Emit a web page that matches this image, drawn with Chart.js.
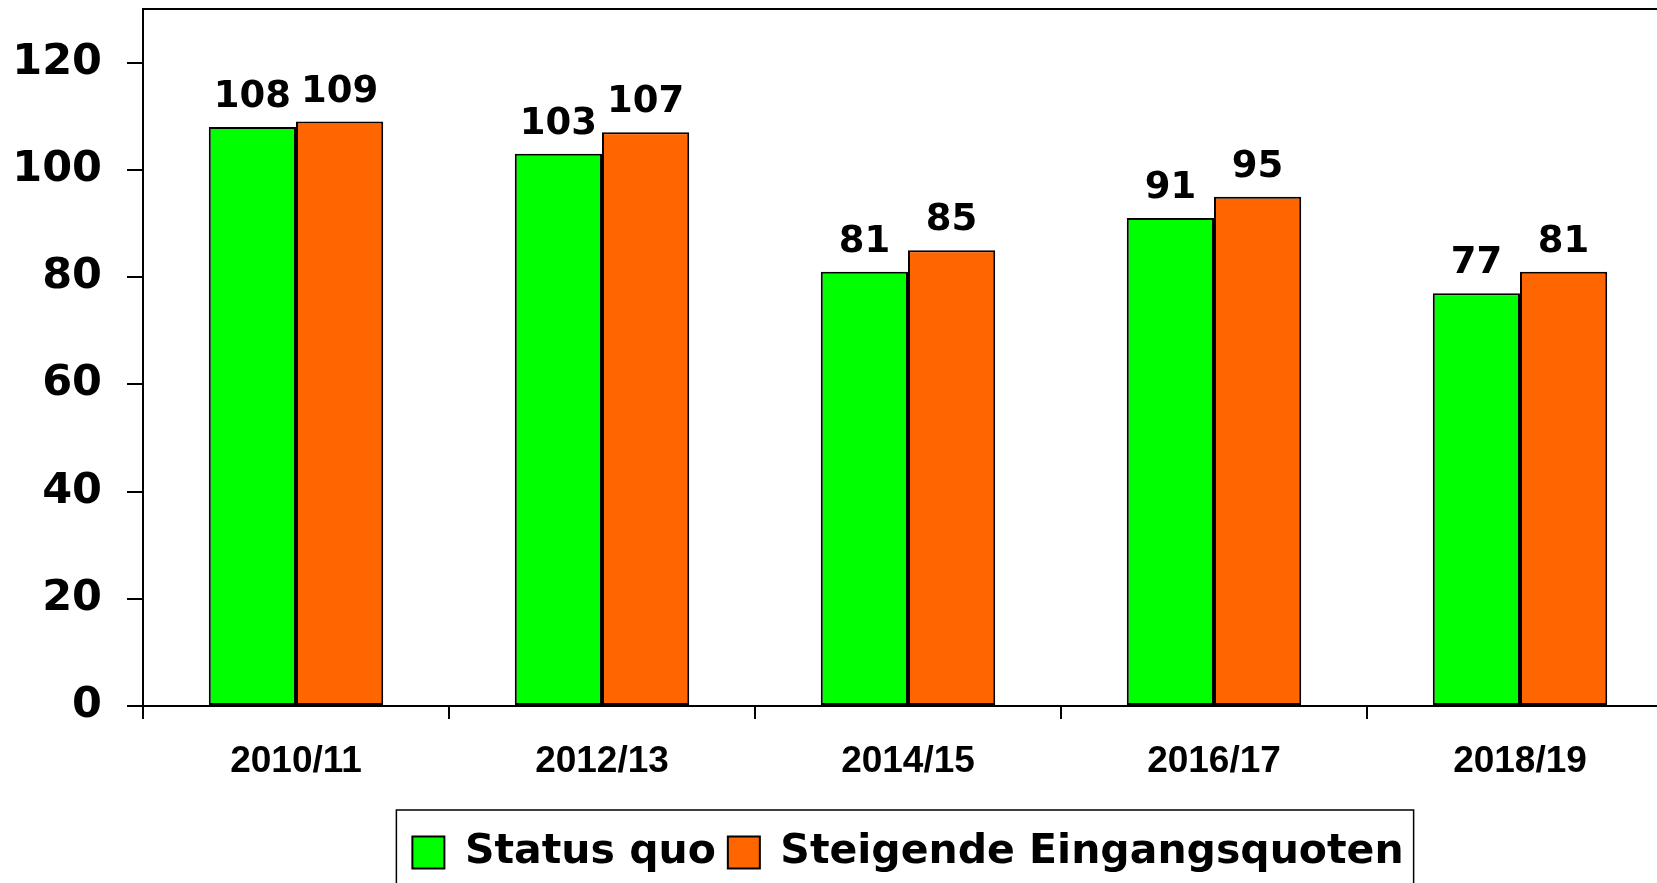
<!DOCTYPE html>
<html>
<head>
<meta charset="utf-8">
<script src="https://cdn.jsdelivr.net/npm/chart.js@4.4.1/dist/chart.umd.min.js"></script>
<style>
  html, body { margin: 0; padding: 0; background: #fff; overflow: hidden; }
  canvas { display: block; }
</style>
</head>
<body>
<canvas id="chart" width="1690" height="883"></canvas>
<script>
// Chart data
const categories = ['2010/11', '2012/13', '2014/15', '2016/17', '2018/19'];
const statusQuo = [108, 103, 81, 91, 77];
const steigendeQuoten = [109, 107, 85, 95, 81];
const seriesNames = ['Status quo', 'Steigende Eingangsquoten'];
const yTickValues = [0, 20, 40, 60, 80, 100, 120];

const verdana = "'DejaVu Sans', Verdana, sans-serif";
const arial = "'Liberation Sans', Arial, sans-serif";

// Value labels above bars
const valueLabels = {
    id: 'valueLabels',
    afterDatasetsDraw(chart) {
        const ctx = chart.ctx;
        ctx.save();
        ctx.font = 'bold 37px ' + verdana;
        ctx.fillStyle = '#000';
        ctx.textAlign = 'center';
        ctx.textBaseline = 'alphabetic';
        chart.data.datasets.forEach((ds, i) => {
            const meta = chart.getDatasetMeta(i);
            meta.data.forEach((bar, j) => {
                ctx.fillText(ds.data[j], bar.x, bar.y - 20);
            });
        });
        ctx.restore();
    }
};

// Frame top of plot + border around legend
const frames = {
    id: 'frames',
    afterDraw(chart) {
        const ctx = chart.ctx;
        const a = chart.chartArea;
        ctx.save();
        ctx.strokeStyle = '#000';
        ctx.lineWidth = 2;
        ctx.beginPath();
        ctx.moveTo(a.left, a.top);
        ctx.lineTo(a.right, a.top);
        ctx.stroke();

        const hb = chart.legend.legendHitBoxes;
        if (hb && hb.length) {
            const first = hb[0];
            const last = hb[hb.length - 1];
            const left = first.left - 16;
            const right = last.left + last.width + 10;
            const top = first.top - 22;
            ctx.lineWidth = 1.5;
            ctx.strokeRect(left, top, right - left, chart.height - top + 10);
        }
        ctx.restore();
    }
};

new Chart(document.getElementById('chart').getContext('2d'), {
    type: 'bar',
    data: {
        labels: categories,
        datasets: [
            {
                label: seriesNames[0],
                data: statusQuo,
                backgroundColor: '#00ff00',
                borderColor: '#000',
                borderWidth: 2,
                borderSkipped: false
            },
            {
                label: seriesNames[1],
                data: steigendeQuoten,
                backgroundColor: '#ff6600',
                borderColor: '#000',
                borderWidth: 2,
                borderSkipped: false
            }
        ]
    },
    options: {
        responsive: false,
        devicePixelRatio: 1,
        animation: false,
        categoryPercentage: 0.57,
        barPercentage: 1.0,
        layout: {
            padding: { top: 9, right: 17, left: 0, bottom: 0 }
        },
        plugins: {
            tooltip: { enabled: false },
            legend: {
                position: 'bottom',
                fullSize: false,
                labels: {
                    color: '#000',
                    font: { family: verdana, size: 41, weight: 'bold' },
                    boxWidth: 32,
                    boxHeight: 32,
                    padding: 12
                }
            }
        },
        scales: {
            x: {
                grid: {
                    display: true,
                    drawOnChartArea: false,
                    drawTicks: true,
                    tickLength: 13,
                    color: '#000',
                    lineWidth: 2,
                    offset: true
                },
                border: { display: true, color: '#000', width: 2 },
                ticks: {
                    color: '#000',
                    font: { family: arial, size: 37, weight: 'bold' },
                    padding: 21,
                    maxRotation: 0
                },
                afterFit(scale) {
                    scale.height = 114;
                    scale.paddingLeft = 0;
                    scale.paddingRight = 0;
                }
            },
            y: {
                min: 0,
                max: 130,
                afterBuildTicks(scale) {
                    scale.ticks = yTickValues.map(v => ({ value: v }));
                },
                grid: {
                    display: true,
                    drawOnChartArea: false,
                    drawTicks: true,
                    tickLength: 16,
                    color: '#000',
                    lineWidth: 2
                },
                border: { display: true, color: '#000', width: 2 },
                ticks: {
                    color: '#000',
                    font: { family: verdana, size: 43, weight: 'bold' },
                    padding: 25
                },
                afterFit(scale) {
                    scale.width = 143;
                    scale.paddingTop = 0;
                    scale.paddingBottom = 0;
                }
            }
        }
    },
    plugins: [valueLabels, frames]
});
</script>
</body>
</html>
